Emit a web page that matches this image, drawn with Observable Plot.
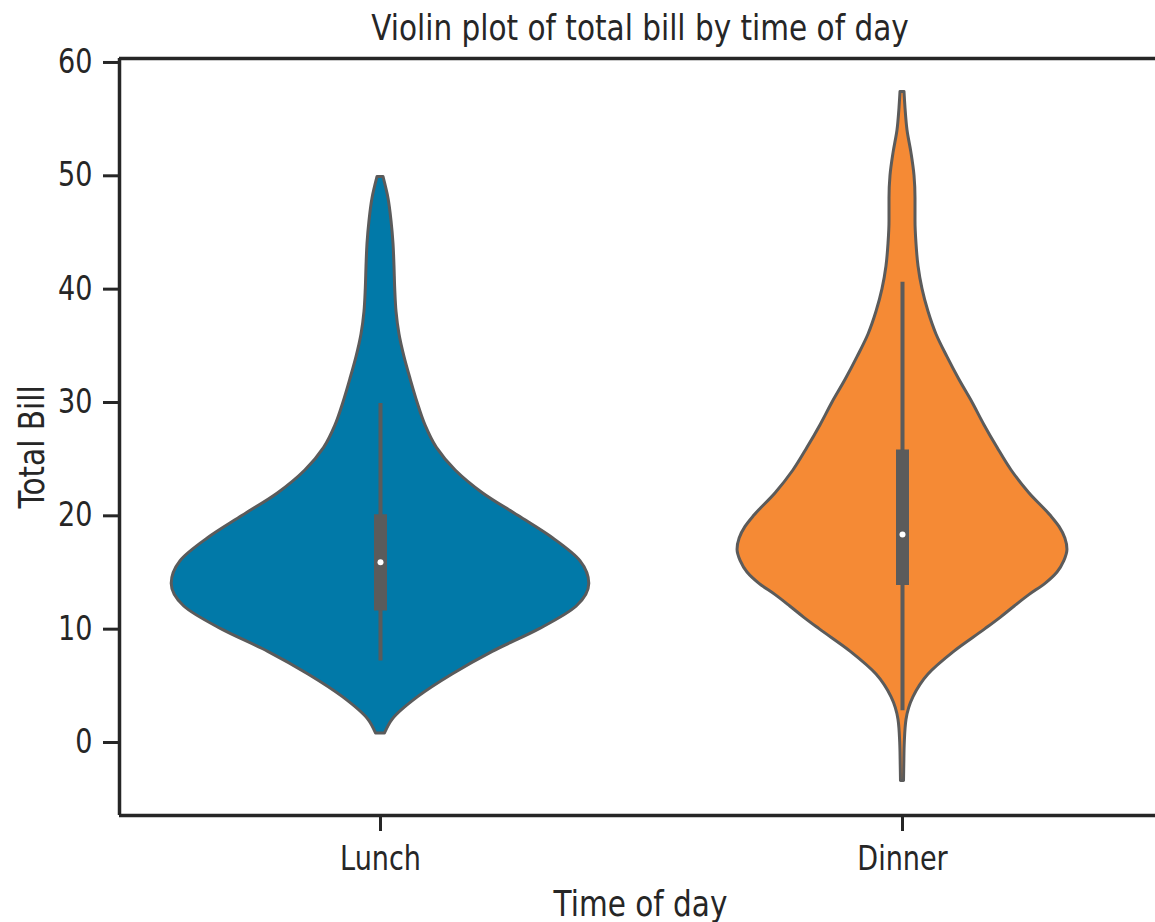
<!DOCTYPE html>
<html>
<head>
<meta charset="utf-8">
<script src="https://cdn.jsdelivr.net/npm/d3@7"></script>
<script src="https://cdn.jsdelivr.net/npm/@observablehq/plot@0.6"></script>
<style>
  html, body { margin: 0; padding: 0; background: #ffffff; }
  #title { position: relative; width: 1155px; height: 20px; }
  #title span {
    position: absolute; left: 640px; top: 9.5px; z-index: 2;
    font-family: "DejaVu Sans", sans-serif; font-size: 36px; line-height: 36px;
    color: #262626; white-space: nowrap;
    transform: translateX(-50%) scaleX(0.82); transform-origin: center;
  }
  #chart svg { display: block; }
</style>
</head>
<body>
<div id="title"><span>Violin plot of total bill by time of day</span></div>
<div id="chart"></div>
<script>
// ---- data ----
const times = ["Lunch", "Dinner"];
const colors = ["#0179a8", "#f58a35"];

// violin outline: total bill value and half width of the density (x-axis units)
const lunchY =         [0.8,    2,      4,      6,     8,     10,    12,    14,    16,    18,    20,    22,    24,    26,    28,    30,     32,     34,     36,     38,     40,     42,     44,     46,     48,     49.9];
const lunchHalfWidth = [0.0086, 0.0230, 0.0720, 0.138, 0.215, 0.305, 0.376, 0.400, 0.383, 0.331, 0.264, 0.196, 0.144, 0.108, 0.086, 0.0709, 0.0580, 0.0460, 0.0364, 0.0307, 0.0282, 0.0268, 0.0249, 0.0211, 0.0153, 0.0057];

const dinnerY =         [-3.4,   -2,     0,      2,      4,      6,      8,      10,    11,    12,    13,    14,    15,    16,    17,    18,    19,    20,    22,    24,    26,    28,    30,    32,    34,     36,     38,     40,     42,     44,     46,     48,     50,     52,     54,     56,     57.4];
const dinnerHalfWidth = [0.0029, 0.0034, 0.0044, 0.0077, 0.0211, 0.0498, 0.0990, 0.159, 0.188, 0.215, 0.243, 0.274, 0.297, 0.310, 0.316, 0.312, 0.301, 0.284, 0.243, 0.209, 0.182, 0.157, 0.134, 0.109, 0.0862, 0.0651, 0.0498, 0.0383, 0.0307, 0.0268, 0.0249, 0.0249, 0.0230, 0.0172, 0.0096, 0.0057, 0.0038];

// inner box plot
const q1 = [11.6, 13.85];
const q3 = [20.1, 25.8];
const medians = [15.9, 18.35];
const whiskerLow = [7.2, 2.8];
const whiskerHigh = [29.9, 40.6];

const yTicks = [0, 10, 20, 30, 40, 50, 60];
const xLabel = "Time of day";
const yLabel = "Total Bill";

// ---- tables built from the arrays ----
const violin = [
  ...lunchY.map((y, j) => ({time: times[0], i: 0, y, w: lunchHalfWidth[j]})),
  ...dinnerY.map((y, j) => ({time: times[1], i: 1, y, w: dinnerHalfWidth[j]}))
];
const boxes = times.map((t, i) => ({
  time: t, i, q1: q1[i], q3: q3[i], med: medians[i], lo: whiskerLow[i], hi: whiskerHigh[i]
}));

const yDomain = [-6.44, 60.35];
const xDomain = [-0.5, -0.5 + (1155 - 119) / 522];
const ink = "#262626";
const gray = "#5b5b5b";

const chart = Plot.plot({
  width: 1155,
  height: 902,
  marginLeft: 119,
  marginRight: 0,
  marginTop: 38,
  marginBottom: 107,
  style: {fontFamily: "DejaVu Sans, sans-serif", fontSize: "33px", color: ink, background: "transparent", overflow: "visible"},
  x: {domain: xDomain, axis: null},
  y: {domain: yDomain, axis: null},
  color: {domain: times, range: colors},
  marks: [
    Plot.areaX(violin, {
      y: "y",
      x1: d => d.i - d.w,
      x2: d => d.i + d.w,
      z: "time",
      fill: "time",
      stroke: gray,
      strokeWidth: 3,
      strokeLinejoin: "round",
      curve: "monotone-y"
    }),
    Plot.ruleX(boxes, {x: "i", y1: "lo", y2: "hi", stroke: gray, strokeWidth: 4}),
    Plot.ruleX(boxes, {x: "i", y1: "q1", y2: "q3", stroke: gray, strokeWidth: 13, strokeLinecap: "butt"}),
    Plot.dot(boxes, {x: "i", y: "med", r: 3, fill: "#ffffff", stroke: null}),
    // spines
    Plot.ruleX([xDomain[0]], {stroke: ink, strokeWidth: 3.5}),
    Plot.ruleY([yDomain[1]], {stroke: ink, strokeWidth: 3.5}),
    Plot.ruleY([yDomain[0]], {stroke: ink, strokeWidth: 3.5}),
    // axes
    Plot.axisY(yTicks, {tickSize: 16, tickPadding: 11, strokeWidth: 3, stroke: ink, fontSize: 33, label: null, fill: ink}),
    Plot.axisX([0, 1], {tickSize: 16, tickPadding: 15, strokeWidth: 3, stroke: ink, fontSize: 33, label: null, fill: ink, tickFormat: i => times[i]}),
    // axis titles
    Plot.text([xLabel], {frameAnchor: "bottom", dx: 3, dy: 100, lineAnchor: "bottom", textAnchor: "middle", fontSize: 36, fill: ink}),
    Plot.text([yLabel], {frameAnchor: "left", dx: -76, dy: 10, rotate: -90, lineAnchor: "bottom", textAnchor: "middle", fontSize: 36, fill: ink})
  ]
});

document.getElementById("chart").appendChild(chart);

// the reference glyphs are narrower than DejaVu Sans: condense each text
chart.querySelectorAll("text").forEach(t => {
  const L = t.getComputedTextLength();
  if (L > 0) {
    t.setAttribute("textLength", (L * 0.82).toFixed(2));
    t.setAttribute("lengthAdjust", "spacingAndGlyphs");
  }
});
</script>
</body>
</html>
